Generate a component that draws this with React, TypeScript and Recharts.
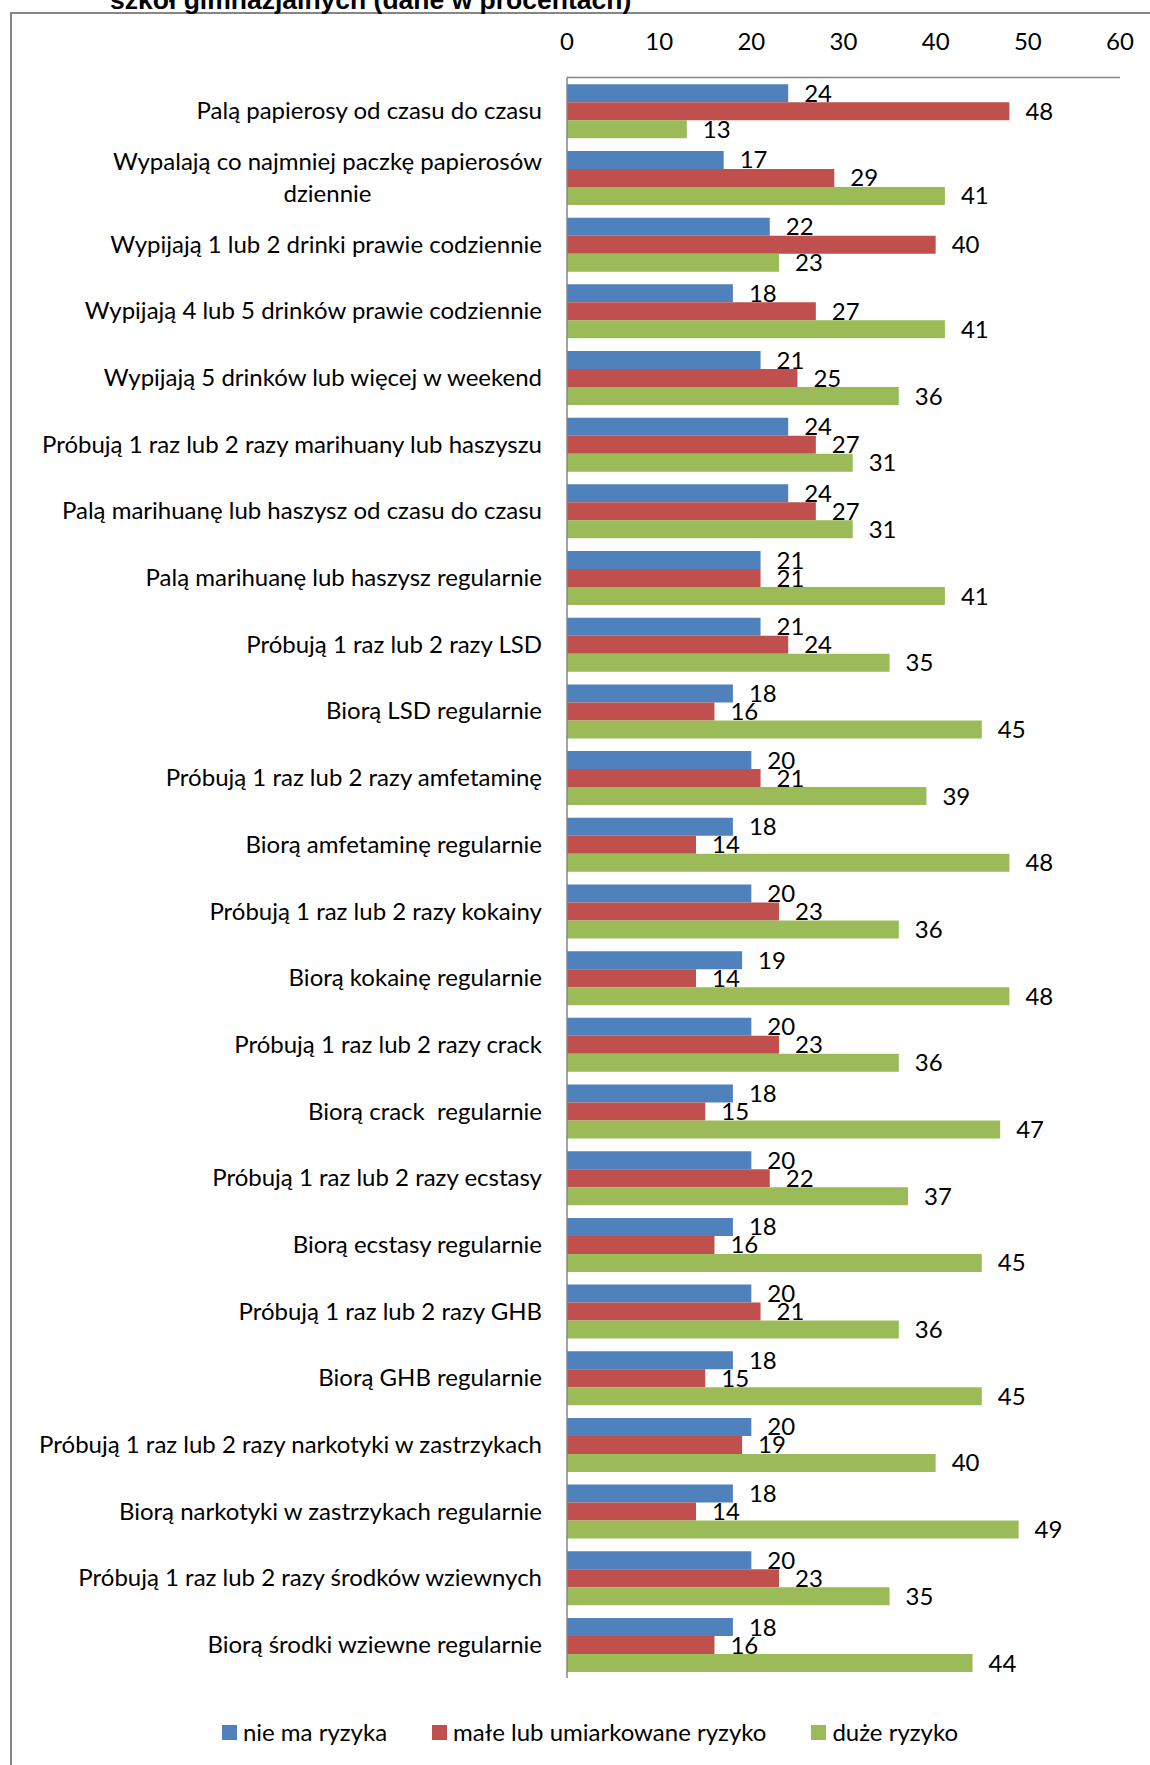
import React, { useLayoutEffect, useRef, useState } from 'react';
import { BarChart, Bar, XAxis, YAxis, LabelList, Legend } from 'recharts';

const categories = [
  'Palą papierosy od czasu do czasu',
  'Wypalają co najmniej paczkę papierosów\ndziennie',
  'Wypijają 1 lub 2 drinki prawie codziennie',
  'Wypijają 4 lub 5 drinków prawie codziennie',
  'Wypijają 5 drinków lub więcej w weekend',
  'Próbują 1 raz lub 2 razy marihuany lub haszyszu',
  'Palą marihuanę lub haszysz od czasu do czasu',
  'Palą marihuanę lub haszysz regularnie',
  'Próbują 1 raz lub 2 razy LSD',
  'Biorą LSD regularnie',
  'Próbują 1 raz lub 2 razy amfetaminę',
  'Biorą amfetaminę regularnie',
  'Próbują 1 raz lub 2 razy kokainy',
  'Biorą kokainę regularnie',
  'Próbują 1 raz lub 2 razy crack',
  'Biorą crack  regularnie',
  'Próbują 1 raz lub 2 razy ecstasy',
  'Biorą ecstasy regularnie',
  'Próbują 1 raz lub 2 razy GHB',
  'Biorą GHB regularnie',
  'Próbują 1 raz lub 2 razy narkotyki w zastrzykach',
  'Biorą narkotyki w zastrzykach regularnie',
  'Próbują 1 raz lub 2 razy środków wziewnych',
  'Biorą środki wziewne regularnie',
];

const noRisk = [24, 17, 22, 18, 21, 24, 24, 21, 21, 18, 20, 18, 20, 19, 20, 18, 20, 18, 20, 18, 20, 18, 20, 18];
const smallRisk = [48, 29, 40, 27, 25, 27, 27, 21, 24, 16, 21, 14, 23, 14, 23, 15, 22, 16, 21, 15, 19, 14, 23, 16];
const bigRisk = [13, 41, 23, 41, 36, 31, 31, 41, 35, 45, 39, 48, 36, 48, 36, 47, 37, 45, 36, 45, 40, 49, 35, 44];

const seriesNames = ['nie ma ryzyka', 'małe lub umiarkowane ryzyko', 'duże ryzyko'];
const valueTicks = [0, 10, 20, 30, 40, 50, 60];
const title = 'szkół gimnazjalnych (dane w procentach)';

const COLORS = ['#4F81BD', '#C0504D', '#9BBB59'];
const FONT = 'Lato, sans-serif';
const FS = 24;
const AXIS = '#868686';

const data = categories.map((name, i) => ({
  name,
  a: noRisk[i],
  b: smallRisk[i],
  c: bigRisk[i],
}));

// category labels: right aligned, extra lines centred under the first one
const CategoryTick = (props: any) => {
  const { x, y, payload } = props;
  const lines: string[] = String(payload.value).split('\n');
  const firstRef = useRef<SVGTextElement>(null);
  const [w, setW] = useState(0);
  useLayoutEffect(() => {
    if (firstRef.current) setW(firstRef.current.getComputedTextLength());
  }, [payload.value]);
  const right = x - 23;
  const lh = 32.6;
  const top = y - ((lines.length - 1) * lh) / 2;
  return (
    <g>
      {lines.map((line, i) => (
        <text
          key={i}
          ref={i === 0 ? firstRef : undefined}
          x={i === 0 ? right : right - w / 2}
          y={top + i * lh}
          dy="0.35em"
          textAnchor={i === 0 ? 'end' : 'middle'}
          fontSize={FS}
          fontFamily={FONT}
          fill="#000"
          style={{ whiteSpace: 'pre' }}
        >
          {line}
        </text>
      ))}
    </g>
  );
};

const ValueTick = (props: any) => {
  const { x, y, payload } = props;
  return (
    <text x={x} y={y - 26} textAnchor="middle" fontSize={FS} fontFamily={FONT} fill="#000">
      {payload.value}
    </text>
  );
};

const renderLegend = () => (
  <div
    style={{
      display: 'flex',
      justifyContent: 'center',
      alignItems: 'center',
      fontFamily: FONT,
      fontSize: FS,
      lineHeight: '32px',
      color: '#000',
    }}
  >
    {seriesNames.map((n, i) => (
      <div key={n} style={{ display: 'flex', alignItems: 'center', marginRight: i < 2 ? 45 : 0 }}>
        <span style={{ width: 15, height: 15, background: COLORS[i], marginRight: 6, display: 'inline-block' }} />
        <span>{n}</span>
      </div>
    ))}
  </div>
);

export default function App() {
  const keys = ['a', 'b', 'c'];
  return (
    <div
      style={{
        position: 'absolute',
        left: 0,
        top: 0,
        width: 1150,
        height: 1765,
        background: '#fff',
        overflow: 'hidden',
      }}
    >
      <div
        style={{
          position: 'absolute',
          left: 10,
          top: 12,
          width: 1200,
          height: 1800,
          borderLeft: `2px solid ${AXIS}`,
          borderTop: `2px solid ${AXIS}`,
        }}
      />
      <svg width={1150} height={20} style={{ position: 'absolute', left: 0, top: 0 }}>
        <text x={110} y={9} fontSize={26.5} fontWeight="bold" fontFamily="'Liberation Sans', Arial, sans-serif" fill="#000">
          {title}
        </text>
      </svg>
      <div style={{ position: 'absolute', left: 0, top: 0 }}>
        <BarChart
          width={1150}
          height={1765}
          data={data}
          layout="vertical"
          margin={{ top: 17.6, right: 30, bottom: 87, left: 0 }}
          barCategoryGap="10%"
          barGap={0}
        >
          <XAxis
            type="number"
            orientation="top"
            domain={[0, 60]}
            ticks={valueTicks}
            height={60}
            axisLine={{ stroke: AXIS, strokeWidth: 1.5 }}
            tickLine={false}
            tickSize={0}
            tick={<ValueTick />}
          />
          <YAxis
            type="category"
            dataKey="name"
            width={567}
            interval={0}
            axisLine={{ stroke: AXIS, strokeWidth: 1.5 }}
            tickLine={false}
            tickSize={0}
            tick={<CategoryTick />}
          />
          <Legend
            verticalAlign="middle"
            align="center"
            layout="horizontal"
            content={renderLegend}
            wrapperStyle={{ top: 1716, left: 30, width: 1120 }}
          />
          {keys.map((k, i) => (
            <Bar key={k} dataKey={k} name={seriesNames[i]} fill={COLORS[i]} isAnimationActive={false}>
              <LabelList dataKey={k} position="right" offset={16} fontSize={FS} fontFamily={FONT} fill="#000" />
            </Bar>
          ))}
        </BarChart>
      </div>
    </div>
  );
}
